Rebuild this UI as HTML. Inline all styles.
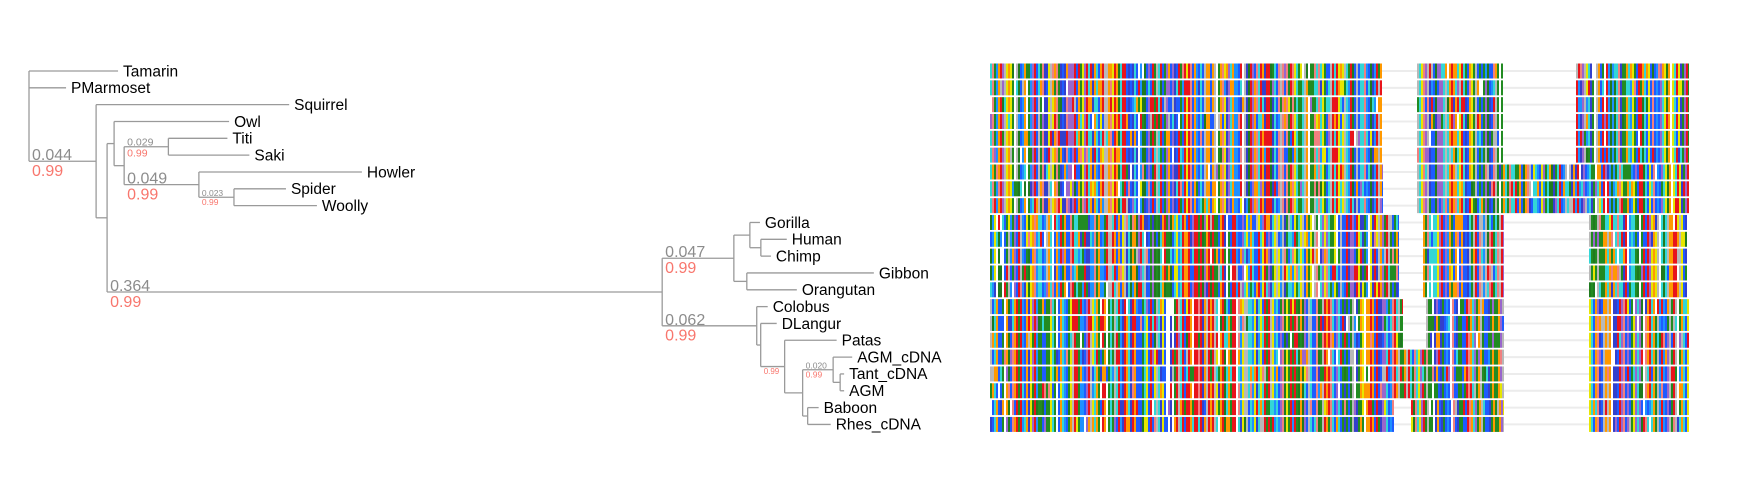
<!DOCTYPE html>
<html><head><meta charset="utf-8"><style>
body{margin:0;background:#fff}
svg{display:block;font-family:"Liberation Sans",sans-serif}
</style></head><body>
<svg id="chart" width="1743" height="494" viewBox="0 0 1743 494">
<rect width="1743" height="494" fill="#fff"/>
<g id="tree"></g>
<g id="aln"></g>
</svg>
<script>
const newick = "(Tamarin:0.0584,PMarmoset:0.0243,(Squirrel:0.1266,((Owl:0.0754,((Titi:0.0387,Saki:0.0531):0.029,(Howler:0.1069,(Spider:0.0341,Woolly:0.0544):0.023):0.049):0.0066):0.0046,(((Gorilla:0.0066,(Human:0.017,Chimp:0.0066):0.0072):0.0105,(Gibbon:0.0833,Orangutan:0.0328):0.0085):0.047,(Colobus:0.0072,(DLangur:0.0105,(Patas:0.0341,((AGM_cDNA:0.0125,(Tant_cDNA:0.0026,AGM:0.0026):0.0046):0.020,(Baboon:0.0072,Rhes_cDNA:0.0151):0.0033):0.0118):0.0157):0.0026):0.062):0.364):0.0072):0.044);";
const labelClades = ["Squirrel|Rhes_cDNA","Titi|Saki","Howler|Woolly","Spider|Woolly","Gorilla|Rhes_cDNA","Gorilla|Orangutan","Colobus|Rhes_cDNA","Patas|Rhes_cDNA","AGM_cDNA|AGM"];
const labelSizes = [16,10.5,16,8.5,16,16,16,8,8.5];
const labelShowLen = [1,1,1,1,1,1,1,0,1];
const posteriors = [0.99,0.99,0.99,0.99,0.99,0.99,0.99,0.99,0.99];
const segGroups = [[0,5,[[0,392],[427,513],[586,699]]],[6,8,[[0,393],[427,699]]],[9,13,[[0,409],[433,514],[599,699]]],[14,16,[[0,413],[436,514],[599,699]]],[17,19,[[0,514],[599,699]]],[20,21,[[0,404],[421,514],[599,699]]]];

const NS="http://www.w3.org/2000/svg";
const X0=29, K=1525, Y0=71, DY=16.83;
const xs=d=>X0+d*K, ys=i=>Y0+i*DY;
function mk(tag,attrs,parent){const e=document.createElementNS(NS,tag);for(const k in attrs)e.setAttribute(k,attrs[k]);parent.appendChild(e);return e;}
let p=0;
function parse(){const n={children:[],name:"",len:0};
 if(newick[p]==='('){p++;for(;;){n.children.push(parse());if(newick[p]===','){p++;continue;}if(newick[p]===')'){p++;break;}}}
 let s="";while(!":,);".includes(newick[p]))s+=newick[p++];n.name=s;
 if(newick[p]===':'){p++;let v="";while(!",);".includes(newick[p]))v+=newick[p++];n.len=parseFloat(v);}
 return n;}
const root=parse();
let tipIdx=0;const tips=[];
function layout(n,d){n.d=d+n.len;
 if(!n.children.length){n.y=ys(tipIdx++);tips.push(n);n.first=n.last=n.name;}
 else{n.children.forEach(c=>layout(c,n.d));n.y=(n.children[0].y+n.children[n.children.length-1].y)/2;n.first=n.children[0].first;n.last=n.children[n.children.length-1].last;}}
layout(root,-root.len);
const tg=document.getElementById('tree');
const LC="#9a9a9a";
function draw(n,px){
 const x=xs(n.d);
 if(px!==null){const br=mk('line',{x1:px,y1:n.y,x2:x,y2:n.y,stroke:LC,'stroke-width':1.3},tg);
  
  }
 if(n.children.length){
  const v=mk('line',{x1:x,y1:n.children[0].y,x2:x,y2:n.children[n.children.length-1].y,stroke:LC,'stroke-width':1.3},tg);
  
  
  n.children.forEach(c=>draw(c,x));
  const key=n.first+'|'+n.last, li=labelClades.indexOf(key);
  if(li>=0&&px!==null){const fs=labelSizes[li];
   if(labelShowLen[li]){const t=mk('text',{x:px+3,y:n.y-1,'font-size':fs,fill:'#8c8c8c'},tg);t.textContent=n.len.toFixed(3);
    
    }
   const t2=mk('text',{x:px+3,y:n.y+fs*0.93,'font-size':fs,fill:'#F8766D'},tg);t2.textContent=posteriors[li].toFixed(2);
   
   }
 } else {
  const t=mk('text',{x:x+5,y:n.y+5.3,'font-size':15.5,fill:'#000'},tg);t.textContent=n.name;
  
  
 }}
draw(root,null);
const ag=document.getElementById('aln');
const AX=990, RH=15;
const pal=["#228B22","#228B22","#1f7a1f","#E8141B","#E8141B","#1E5BFF","#1E5BFF","#3340CC","#FF9900","#FF9900","#33D6D6","#33D6D6","#b8b8b8","#9966CC","#E6E600","#ffffff","#F08080","#1E90FF"];
function h(a,b){let s=(a*374761393+b*668265263)>>>0;s=(s^(s>>>13))*1274126177>>>0;return (s^(s>>>16))>>>0;}
const W=2;
for(let r=0;r<22;r++){
 const y=ys(r)-7.5;
 const bg=mk('line',{x1:AX,x2:AX+699,y1:ys(r),y2:ys(r),stroke:'#ececec','stroke-width':2},ag);
 
 
 const g=segGroups.find(s=>r>=s[0]&&r<=s[1]);
 const clade=r<9?0:(r<14?1:2);
 g[2].forEach(seg=>{
  for(let c=seg[0];c<seg[1];c+=W){
   const col=c/W|0;
   let k=h(col,clade+1)%pal.length;
   if(h(col,r+50)%100<18)k=h(col,r+100)%pal.length;
   if(r>=9&&col>95&&col<125&&h(col,7)%100<35)k=3;
   const rc=mk('rect',{x:AX+c,y:y,width:Math.min(W,seg[1]-c),height:RH,fill:pal[k]},ag);
   
   
  }});
}
</script>
</body></html>
